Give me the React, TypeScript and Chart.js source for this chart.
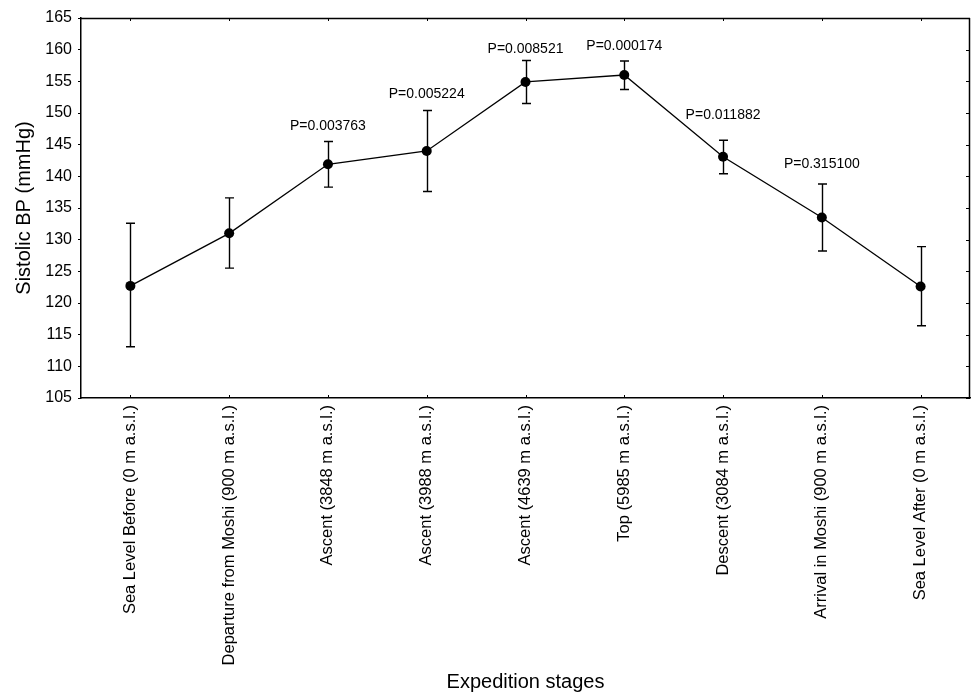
import React, { useEffect, useRef } from "react";
import { Chart, registerables } from "chart.js";

Chart.register(...registerables);

const stages = [
  "Sea Level Before (0 m a.s.l.)",
  "Departure from Moshi (900 m a.s.l.)",
  "Ascent (3848 m a.s.l.)",
  "Ascent (3988 m a.s.l.)",
  "Ascent (4639 m a.s.l.)",
  "Top (5985 m a.s.l.)",
  "Descent (3084 m a.s.l.)",
  "Arrival in Moshi (900 m a.s.l.)",
  "Sea Level After (0 m a.s.l.)",
];
const meanBP = [122.7, 131.0, 141.9, 144.0, 154.9, 156.0, 143.1, 133.5, 122.6];
const errHigh = [132.6, 136.6, 145.5, 150.4, 158.3, 158.2, 145.7, 138.8, 128.9];
const errLow = [113.1, 125.5, 138.3, 137.6, 151.5, 153.7, 140.4, 128.2, 116.4];
const pLabels = [null, null, "P=0.003763", "P=0.005224", "P=0.008521", "P=0.000174", "P=0.011882", "P=0.315100", null];
const pLabelAt = [null, null, 147.9, 153.0, 160.1, 160.6, 149.7, 141.9, null];
const yMin = 105;
const yMax = 165;
const yStep = 5;

const FONT = "'Liberation Sans', Arial, sans-serif";

const decorPlugin = {
  id: "decor",
  beforeDatasetsDraw(chart: any) {
    const { ctx } = chart;
    const xs = chart.scales.x;
    const ys = chart.scales.y;
    ctx.save();
    ctx.strokeStyle = "#000";
    ctx.lineWidth = 1.4;
    const cap = 4.5;
    for (let i = 0; i < meanBP.length; i++) {
      const x = Math.round(xs.getPixelForValue(i)) + 0.5;
      const yH = ys.getPixelForValue(errHigh[i]);
      const yL = ys.getPixelForValue(errLow[i]);
      ctx.beginPath();
      ctx.moveTo(x, yH);
      ctx.lineTo(x, yL);
      ctx.moveTo(x - cap, yH);
      ctx.lineTo(x + cap, yH);
      ctx.moveTo(x - cap, yL);
      ctx.lineTo(x + cap, yL);
      ctx.stroke();
    }
    ctx.restore();
  },
  afterDraw(chart: any) {
    const { ctx, chartArea } = chart;
    const xs = chart.scales.x;
    const ys = chart.scales.y;
    const { left, right, top, bottom } = chartArea;
    ctx.save();
    ctx.strokeStyle = "#000";
    ctx.lineWidth = 1.5;
    // top and right borders
    ctx.beginPath();
    ctx.moveTo(left, Math.round(top) + 0.5);
    ctx.lineTo(right, Math.round(top) + 0.5);
    ctx.moveTo(Math.round(right) - 0.5, top);
    ctx.lineTo(Math.round(right) - 0.5, bottom);
    ctx.stroke();
    ctx.lineWidth = 1;
    ctx.beginPath();
    // inward ticks on top and bottom
    for (let i = 0; i < stages.length; i++) {
      const x = Math.round(xs.getPixelForValue(i)) + 0.5;
      ctx.moveTo(x, top);
      ctx.lineTo(x, top + 3);
      ctx.moveTo(x, bottom);
      ctx.lineTo(x, bottom - 3);
    }
    // inward ticks on right
    for (let v = yMin; v <= yMax; v += yStep) {
      const y = Math.round(ys.getPixelForValue(v)) + 0.5;
      ctx.moveTo(right, y);
      ctx.lineTo(right - 4, y);
    }
    ctx.stroke();
    // p-value labels
    ctx.fillStyle = "#000";
    ctx.font = "14px " + FONT;
    ctx.textAlign = "center";
    ctx.textBaseline = "middle";
    for (let i = 0; i < pLabels.length; i++) {
      const t = pLabels[i];
      const yv = pLabelAt[i];
      if (!t || yv == null) continue;
      ctx.fillText(t, xs.getPixelForValue(i), ys.getPixelForValue(yv));
    }
    ctx.restore();
  },
};

export default function App() {
  const ref = useRef<HTMLCanvasElement>(null);
  useEffect(() => {
    document.body.style.margin = "0";
    document.body.style.background = "#fff";
    const chart = new Chart(ref.current!, {
      type: "line",
      data: {
        labels: stages,
        datasets: [
          {
            data: meanBP,
            borderColor: "#000",
            backgroundColor: "#000",
            borderWidth: 1.3,
            pointRadius: 5,
            pointBackgroundColor: "#000",
            pointBorderColor: "#000",
            pointBorderWidth: 0,
            tension: 0,
          },
        ],
      },
      options: {
        responsive: false,
        animation: false,
        events: [],
        layout: { autoPadding: false, padding: { top: 18, right: 2, left: 0, bottom: 0 } },
        plugins: { legend: { display: false }, tooltip: { enabled: false } },
        scales: {
          x: {
            type: "category",
            offset: true,
            grid: { display: false, drawTicks: false },
            border: { display: true, color: "#000", width: 1.5 },
            ticks: {
              autoSkip: false,
              maxRotation: 90,
              minRotation: 90,
              padding: 7,
              color: "#000",
              font: { family: FONT, size: 16.5 },
            },
            title: {
              display: true,
              text: "Expedition stages",
              color: "#000",
              font: { family: FONT, size: 20 },
              padding: { top: 0, bottom: 0 },
            },
            afterFit: (s: any) => {
              s.height = 296;
              s.paddingLeft = 0;
              s.paddingRight = 0;
            },
          },
          y: {
            min: yMin,
            max: yMax,
            grid: { display: true, drawOnChartArea: false, drawTicks: true, tickLength: 3, color: "#000" },
            border: { display: true, color: "#000", width: 1.5 },
            ticks: {
              stepSize: yStep,
              padding: 6,
              color: "#000",
              font: { family: FONT, size: 16 },
            },
            title: {
              display: true,
              text: "Sistolic BP (mmHg)",
              color: "#000",
              font: { family: FONT, size: 20 },
              padding: { top: 12, bottom: 0 },
            },
            afterFit: (s: any) => {
              s.width = 81;
            },
          },
        },
      },
      plugins: [decorPlugin],
    });
    return () => chart.destroy();
  }, []);
  return (
    <div style={{ width: 972, height: 694 }}>
      <canvas ref={ref} width={972} height={694} />
    </div>
  );
}
